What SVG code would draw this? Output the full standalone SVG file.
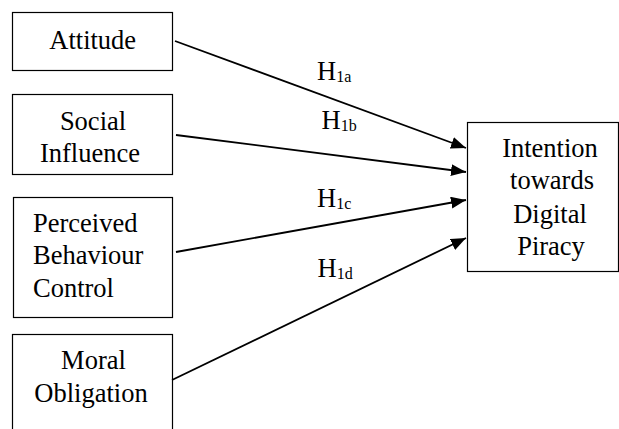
<svg xmlns="http://www.w3.org/2000/svg" width="619" height="429" viewBox="0 0 619 429">
<style>
.box{fill:#fff;stroke:#000;stroke-width:1.2}
text{font-family:'Liberation Serif','Times New Roman',serif;font-size:26.5px;fill:#000}
.c{text-anchor:middle}
.sub{font-size:16px}
.edge{stroke:#000;stroke-width:1.8;fill:none;marker-end:url(#ah)}
</style>
<defs>
<marker id="ah" markerUnits="userSpaceOnUse" markerWidth="16" markerHeight="12" refX="15" refY="6" orient="auto">
<path d="M0,0 L15,6 L0,12 Z" fill="#000"/>
</marker>
</defs>
<rect width="619" height="429" fill="#fff"/>
<g id="attitude"><rect class="box" x="12.5" y="12.5" width="160" height="58"/><text class="c" x="92.7" y="49.3">Attitude</text></g>
<g id="social"><rect class="box" x="12.5" y="94.5" width="160" height="80"/><text class="c" x="93" y="130">Social</text><text class="c" x="90" y="162">Influence</text></g>
<g id="pbc"><rect class="box" x="13.5" y="197.5" width="159" height="120"/><text x="33" y="232">Perceived</text><text x="33" y="264.3">Behaviour</text><text x="33" y="296.7">Control</text></g>
<g id="moral"><rect class="box" x="12.5" y="334.5" width="160" height="110"/><text class="c" x="93.5" y="369.3">Moral</text><text class="c" x="91" y="401.5">Obligation</text></g>
<g id="intention"><rect class="box" x="467.5" y="122.5" width="151" height="149"/><text class="c" x="550" y="156.7">Intention</text><text class="c" x="552" y="189.3">towards</text><text class="c" x="550" y="222.7">Digital</text><text class="c" x="551" y="255">Piracy</text></g>
<g id="connectors">
<line class="edge" x1="175" y1="41" x2="466" y2="148"/>
<line class="edge" x1="176" y1="135" x2="466" y2="172"/>
<line class="edge" x1="176" y1="252" x2="466" y2="200"/>
<line class="edge" x1="172" y1="380" x2="466" y2="238"/>
</g>
<g id="labels">
<text x="317" y="79.5">H<tspan class="sub" dy="2">1a</tspan></text>
<text x="321.5" y="129">H<tspan class="sub" dy="2">1b</tspan></text>
<text x="317" y="207">H<tspan class="sub" dy="2">1c</tspan></text>
<text x="317.5" y="277.3">H<tspan class="sub" dy="2">1d</tspan></text>
</g>
</svg>
